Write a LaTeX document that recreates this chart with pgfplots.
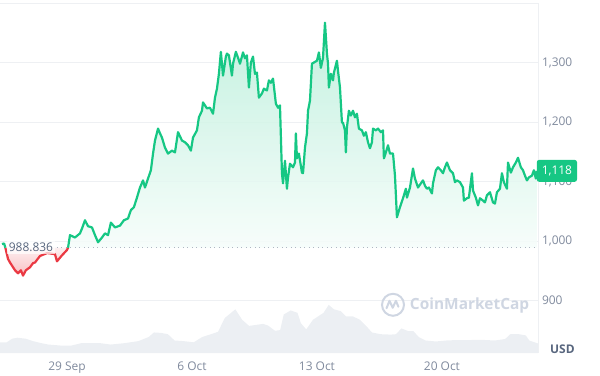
\documentclass[border=0pt]{standalone}
\usepackage{fontspec}
\setmainfont{Open Sans}
\usepackage{pgfplots}
\usepackage{pgfplotstable}
\pgfplotsset{compat=1.18}
\definecolor{cmcgreen}{RGB}{22,199,132}
\definecolor{cmcred}{RGB}{234,57,67}
\definecolor{gridc}{RGB}{238,240,243}
\definecolor{labc}{RGB}{128,138,157}
\definecolor{darklab}{RGB}{88,102,126}
\definecolor{volc}{RGB}{236,239,243}
\definecolor{wmc}{RGB}{207,214,226}
\definecolor{basec}{RGB}{175,182,195}

\pgfplotstableread{
x y
0.06 988.836
0.17 1010
0.45 1006
0.73 1013
0.84 1021
1.01 1035
1.18 1025
1.40 1023
1.57 1010
1.74 998
1.96 1006
2.13 1013
2.30 1010
2.46 1031
2.69 1023
2.97 1026
3.19 1035
3.42 1038
3.58 1052
3.75 1057
3.92 1073
4.09 1090
4.26 1102
4.37 1090
4.54 1105
4.70 1119
4.82 1147
4.93 1169
5.10 1189
5.21 1181
5.32 1174
5.49 1157
5.66 1147
5.88 1152
6.05 1149
6.22 1183
6.44 1169
6.61 1166
6.78 1161
6.94 1152
7.06 1174
7.28 1186
7.39 1208
7.56 1219
7.62 1233
7.84 1223
8.01 1224
8.18 1214
8.29 1241
8.40 1256
8.51 1281
8.62 1318
8.74 1278
8.90 1310
8.96 1315
9.07 1312
9.24 1278
9.30 1298
9.46 1318
9.58 1308
9.69 1298
9.86 1317
9.97 1307
10.08 1312
10.19 1258
10.30 1300
10.42 1310
10.53 1281
10.64 1283
10.75 1241
10.92 1248
11.03 1256
11.20 1253
11.31 1270
11.42 1266
11.54 1273
11.70 1231
11.82 1224
11.93 1228
12.04 1114
12.10 1097
12.21 1135
12.32 1088
12.38 1107
12.49 1130
12.66 1124
12.77 1132
12.82 1181
12.88 1139
12.99 1147
13.16 1115
13.22 1114
13.33 1157
13.44 1181
13.50 1219
13.61 1236
13.72 1298
13.83 1300
14.00 1303
14.11 1317
14.22 1291
14.34 1308
14.45 1367
14.56 1315
14.62 1298
14.67 1258
14.78 1281
14.90 1270
14.95 1283
15.12 1303
15.18 1286
15.29 1258
15.40 1199
15.46 1199
15.57 1186
15.62 1149
15.68 1191
15.79 1219
15.90 1211
16.02 1219
16.13 1208
16.24 1214
16.35 1189
16.52 1186
16.63 1177
16.74 1183
16.86 1166
16.97 1156
17.08 1166
17.14 1189
17.30 1186
17.42 1189
17.58 1183
17.70 1186
17.75 1139
17.86 1149
17.98 1161
18.09 1147
18.26 1147
18.37 1110
18.48 1040
18.65 1057
18.82 1072
18.98 1088
19.04 1073
19.21 1090
19.38 1122
19.49 1105
19.66 1090
19.82 1097
19.94 1102
20.05 1093
20.16 1088
20.27 1090
20.44 1080
20.50 1097
20.66 1119
20.78 1124
20.94 1119
21.06 1114
21.17 1124
21.28 1132
21.45 1119
21.62 1114
21.73 1099
21.84 1102
22.01 1099
22.18 1090
22.23 1068
22.40 1072
22.51 1073
22.68 1114
22.74 1085
22.90 1073
23.02 1060
23.13 1072
23.30 1068
23.41 1065
23.52 1077
23.69 1082
23.86 1065
23.97 1063
24.08 1082
24.25 1088
24.36 1114
24.47 1099
24.64 1088
24.70 1132
24.86 1115
24.98 1124
25.14 1132
25.26 1140
25.42 1124
25.54 1119
25.65 1110
25.76 1102
25.87 1107
26.04 1110
26.15 1119
26.26 1105
26.32 1118
}\greenpart

\pgfplotstableread{
x y
-3.45 988.836
-3.30 970
-3.19 964
-2.91 951
-2.74 946
-2.58 951
-2.46 942
-2.30 951
-2.07 956
-1.90 963
-1.79 964
-1.51 975
-1.10 980
-0.67 978
-0.56 966
-0.28 976
0.00 985
0.06 988.836
}\redpart

\pgfplotstableread{
x y
-3.64 995
-3.52 996
-3.45 988.836
}\startpart

\pgfplotstableread{
x y
-3.75 830
-3.37 830
-3.07 836
-2.78 837.7
-2.30 836
-1.91 832
-1.43 828.5
-1.04 826.2
-0.26 824.3
0.22 824.3
0.80 828.5
1.87 828.5
2.45 826.2
3.22 828.5
4.00 832
4.58 838.9
4.87 846.5
5.26 845.8
5.65 843.6
6.03 833
6.52 832
7.10 830
7.58 838.9
8.07 843.6
8.46 847.6
8.84 870.8
9.43 885.4
9.81 867.9
10.20 857.5
10.59 859.2
10.98 860.9
11.27 858
11.65 849.3
11.94 850.5
12.14 876.7
12.53 883.5
12.91 879.5
13.10 862.1
13.40 851.7
13.78 867.9
14.07 873.6
14.37 879.5
14.66 892.9
14.95 885.4
15.33 882.4
15.62 873.6
16.01 873.6
16.40 867.9
16.79 856.4
17.08 846.5
17.56 843.6
18.14 842.9
18.43 843.6
18.73 853.3
19.11 848.8
19.40 848.8
19.70 838.9
20.08 833
20.66 831.4
21.25 833
21.82 833.8
22.60 833.8
23.18 834.2
23.96 833
24.54 835.5
24.83 843.6
25.31 843.6
25.70 841.5
25.89 833
26.38 828
}\volume

\begin{document}
\begin{tikzpicture}
\path[use as bounding box] (0,-23bp) rectangle (600bp,353bp);
\begin{axis}[
  at={(0,0)}, anchor=south west,
  scale only axis, width=538bp, height=350bp,
  xmin=-3.75, xmax=26.38, ymin=812, ymax=1400,
  axis line style={draw=none},
  xtick={0,7,14,21},
  xticklabels={29 Sep,6 Oct,13 Oct,20 Oct},
  ytick={900,1000,1100,1200,1300},
  yticklabel pos=right,
  ymajorgrids,
  grid style={gridc, line width=0.8pt},
  major tick length=0pt,
  tick label style={font=\fontsize{12}{14}\selectfont, text=labc},
  yticklabel style={anchor=west, xshift=0.5bp},
  xticklabel style={yshift=-5bp},
  /pgf/number format/1000 sep={,},
  /pgf/number format/assume math mode=true,
  clip mode=individual,
]
% volume
\addplot[draw=none, fill=volc] table[x=x,y=y] {\volume} \closedcycle;
% fills
\addplot[draw=none, top color=cmcgreen!30, bottom color=cmcgreen!4, fill opacity=0.85]
  table[x=x,y=y] {\greenpart} -- (axis cs:26.32,988.836) -- cycle;
\addplot[draw=none, top color=cmcred!8, bottom color=cmcred!32]
  table[x=x,y=y] {\redpart} -- cycle;
% frame lines
\draw[gridc, line width=0.8pt] (rel axis cs:0,1) -- (rel axis cs:1,1) -- (rel axis cs:1,0);
% baseline
\addplot[basec, line width=0.9pt, dash pattern=on 1bp off 3.5bp] coordinates {(-0.56,988.836) (26.38,988.836)};
% lines
\addplot[cmcred, line width=2.2bp, line join=round] table[x=x,y=y] {\redpart};
\addplot[cmcgreen, line width=2.2bp, line join=round] table[x=x,y=y] {\startpart};
\addplot[cmcgreen, line width=2.2bp, line join=round] table[x=x,y=y] {\greenpart};
% baseline label
\node[anchor=west, fill=white, fill opacity=0.7, text opacity=1, text=darklab, inner xsep=1.5bp, inner ysep=2bp,
  font=\fontsize{12}{14}\selectfont] at (axis cs:-3.35,988.836) {988.836};
% watermark
\draw[wmc, line width=2bp] (axis cs:18.26,893) circle (11bp);
\draw[wmc, line width=2bp, line join=round, line cap=round]
  ([shift={(-6.5bp,-3.5bp)}]axis cs:18.26,893) -- ++(3bp,7.5bp) -- ++(3.2bp,-7bp) -- ++(3.2bp,7bp) -- ++(2.5bp,-6bp);
\node[text=wmc, font=\fontsize{15.5}{17}\selectfont\bfseries, anchor=west, inner sep=0pt] at (axis cs:19.2,892) {CoinMarketCap};
% current price box
\node[anchor=west, fill=cmcgreen, text=white, rounded corners=2.5bp, inner xsep=5bp, minimum height=22bp,
  font=\fontsize{12}{14}\selectfont] at (axis cs:26.30,1118) {1,118};
% USD
\node[anchor=base west, inner sep=0pt, text=darklab, font=\fontsize{12}{14}\selectfont\bfseries]
  at ([xshift=12bp]rel axis cs:1,0) {USD};
\end{axis}
\end{tikzpicture}
\end{document}
